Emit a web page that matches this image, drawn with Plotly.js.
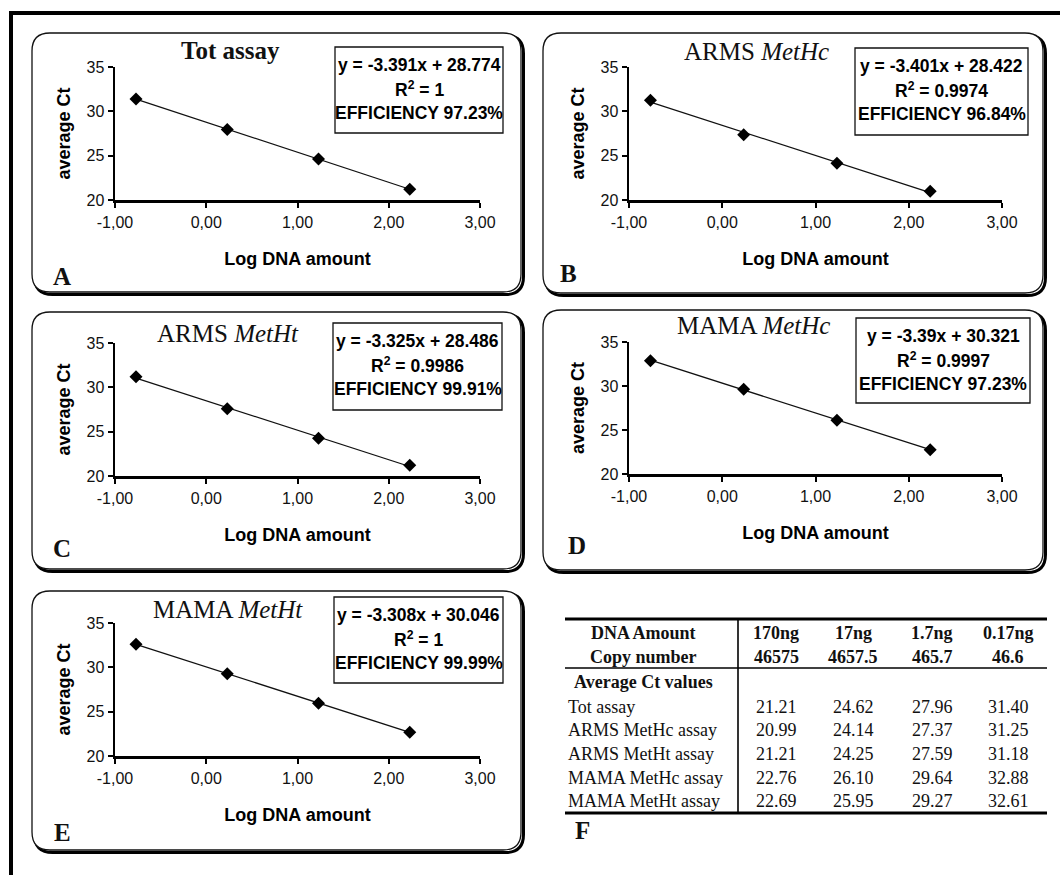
<!DOCTYPE html>
<html>
<head>
<meta charset="utf-8">
<script src="https://cdn.plot.ly/plotly-3.0.1.min.js"></script>
<style>html,body{margin:0;padding:0;background:#fff;}#chart{width:1060px;height:875px;}</style>
</head>
<body>
<div id="chart"></div>
<script>
// ---------------- DATA ----------------
const amountLabels = ["170ng", "17ng", "1.7ng", "0.17ng"];
const copyNumbers = ["46575", "4657.5", "465.7", "46.6"];
const logDnaAmount = [2.23, 1.23, 0.23, -0.77];

const assayNames = ["Tot assay", "ARMS MetHc assay", "ARMS MetHt assay", "MAMA MetHc assay", "MAMA MetHt assay"];
const ctTot       = [21.21, 24.62, 27.96, 31.40];
const ctArmsMetHc = [20.99, 24.14, 27.37, 31.25];
const ctArmsMetHt = [21.21, 24.25, 27.59, 31.18];
const ctMamaMetHc = [22.76, 26.10, 29.64, 32.88];
const ctMamaMetHt = [22.69, 25.95, 29.27, 32.61];

const panelTitles = ["<b>Tot assay</b>", "ARMS <i>MetHc</i>", "ARMS <i>MetHt</i>", "MAMA <i>MetHc</i>", "MAMA <i>MetHt</i>"];
const panelLetters = ["A", "B", "C", "D", "E"];
const fitSlopes = [-3.391, -3.401, -3.325, -3.39, -3.308];
const fitIntercepts = [28.774, 28.422, 28.486, 30.321, 30.046];
const fitR2 = ["1", "0.9974", "0.9986", "0.9997", "1"];
const fitEfficiency = ["97.23%", "96.84%", "99.91%", "97.23%", "99.99%"];

const xTickVals = [-1, 0, 1, 2, 3];
const xTickLabels = ["-1,00", "0,00", "1,00", "2,00", "3,00"];
const yTickVals = [20, 25, 30, 35];
const yTickLabels = ["20", "25", "30", "35"];

// ---------------- LAYOUT GEOMETRY (pixels) ----------------
const W = 1060, H = 875;
const fx = x => x / W;
const fy = y => 1 - y / H;

const ctSeries = [ctTot, ctArmsMetHc, ctArmsMetHt, ctMamaMetHc, ctMamaMetHt];
const geo = [
  {plot: [115, 67, 480, 200], box: [32, 33, 521, 292], title: [230, 50], eq: [335, 47, 503, 133], letter: [62, 277]},
  {plot: [629, 67, 1002, 200], box: [543, 33, 1043, 293], title: [756, 52], eq: [855, 48, 1028, 135], letter: [568, 273]},
  {plot: [115, 343, 480, 476], box: [32, 312, 521, 569], title: [228, 333], eq: [333, 323, 502, 410], letter: [62, 548]},
  {plot: [629, 342, 1002, 474], box: [543, 310, 1043, 570], title: [753, 325], eq: [856, 318, 1030, 403], letter: [577, 545]},
  {plot: [115, 623, 480, 756], box: [32, 591, 521, 850], title: [228, 609], eq: [334, 597, 503, 683], letter: [62, 832]}
];

function rrPath(x0, y0, x1, y1, r) {
  const P = (x, y) => fx(x).toFixed(5) + "," + fy(y).toFixed(5);
  return "M" + P(x0 + r, y0) + " L" + P(x1 - r, y0) + " Q" + P(x1, y0) + " " + P(x1, y0 + r) +
    " L" + P(x1, y1 - r) + " Q" + P(x1, y1) + " " + P(x1 - r, y1) +
    " L" + P(x0 + r, y1) + " Q" + P(x0, y1) + " " + P(x0, y1 - r) +
    " L" + P(x0, y0 + r) + " Q" + P(x0, y0) + " " + P(x0 + r, y0) + " Z";
}

const sans = "Arial, 'Liberation Sans', sans-serif";
const serif = "'Times New Roman', 'Liberation Serif', serif";

const traces = [];
const shapes = [];
const annotations = [];
const layout = {
  width: W, height: H,
  margin: {l: 0, r: 0, t: 0, b: 0},
  paper_bgcolor: "#ffffff",
  plot_bgcolor: "rgba(0,0,0,0)",
  showlegend: false,
  shapes: shapes,
  annotations: annotations
};

// outer frame (top & left visible)
shapes.push({type: "line", xref: "paper", yref: "paper", x0: fx(11), y0: fy(13), x1: fx(1062), y1: fy(13), line: {color: "#000", width: 4}});
shapes.push({type: "line", xref: "paper", yref: "paper", x0: fx(11), y0: fy(11), x1: fx(11), y1: fy(880), line: {color: "#000", width: 4}});

geo.forEach((g, i) => {
  const n = i + 1;
  const xa = "xaxis" + (n === 1 ? "" : n), ya = "yaxis" + (n === 1 ? "" : n);
  const xr = "x" + (n === 1 ? "" : n), yr = "y" + (n === 1 ? "" : n);
  const [b0, b1, b2, b3] = g.box;
  // panel shadow + panel
  shapes.push({type: "path", xref: "paper", yref: "paper", layer: "below", path: rrPath(b0 + 2.5, b1 + 2.5, b2 + 2.5, b3 + 2.5, 18), line: {color: "#000", width: 3}});
  shapes.push({type: "path", xref: "paper", yref: "paper", layer: "below", path: rrPath(b0, b1, b2, b3, 18), fillcolor: "#fff", line: {color: "#111", width: 1.3}});

  layout[xa] = {
    domain: [fx(g.plot[0]), fx(g.plot[2])], anchor: yr, range: [-1, 3],
    tickmode: "array", tickvals: xTickVals, ticktext: xTickLabels, showgrid: false, zeroline: false,
    showline: true, linecolor: "#000", linewidth: 2.5, ticks: "outside", ticklen: 5, tickwidth: 2, tickcolor: "#000",
    ticklabelstandoff: 1,
    tickfont: {family: sans, size: 16, color: "#111"},
    title: {text: "<b>Log DNA amount</b>", font: {family: sans, size: 18, color: "#000"}, standoff: 23},
    fixedrange: true
  };
  layout[ya] = {
    domain: [fy(g.plot[3]), fy(g.plot[1])], anchor: xr, range: [20, 35],
    tickmode: "array", tickvals: yTickVals, ticktext: yTickLabels, showgrid: false, zeroline: false,
    showline: true, linecolor: "#000", linewidth: 2.5, ticks: "outside", ticklen: 5, tickwidth: 2, tickcolor: "#000",
    tickfont: {family: sans, size: 16, color: "#111"},
    title: {text: "<b>average Ct</b>", font: {family: sans, size: 18, color: "#000"}, standoff: 11},
    fixedrange: true
  };

  // trend line from the fitted equation over the data span
  const xs = [Math.min(...logDnaAmount), Math.max(...logDnaAmount)];
  traces.push({
    type: "scatter", mode: "lines", xaxis: xr, yaxis: yr,
    x: xs, y: xs.map(v => fitSlopes[i] * v + fitIntercepts[i]),
    line: {color: "#111", width: 1.3}, hoverinfo: "skip"
  });
  traces.push({
    type: "scatter", mode: "markers", xaxis: xr, yaxis: yr,
    x: logDnaAmount, y: ctSeries[i],
    marker: {symbol: "diamond", size: 10, color: "#000"}
  });

  // title
  annotations.push({xref: "paper", yref: "paper", x: fx(g.title[0]), y: fy(g.title[1]), xanchor: "center", yanchor: "middle",
    text: panelTitles[i], showarrow: false, font: {family: serif, size: 25, color: "#111"}});
  // equation box
  const [e0, e1, e2, e3] = g.eq;
  shapes.push({type: "rect", xref: "paper", yref: "paper", x0: fx(e0), y0: fy(e1), x1: fx(e2), y1: fy(e3),
    fillcolor: "#fff", line: {color: "#111", width: 1.3}});
  const eqLines = ["y = " + fitSlopes[i] + "x + " + fitIntercepts[i], "R<sup>2</sup> = " + fitR2[i], "EFFICIENCY " + fitEfficiency[i]];
  const eqOff = [18, 42, 66];
  eqLines.forEach((t, k) => {
    annotations.push({xref: "paper", yref: "paper", x: fx((e0 + e2) / 2), y: fy(e1 + eqOff[k]),
      xanchor: "center", yanchor: "middle", text: "<b>" + t + "</b>", showarrow: false,
      font: {family: sans, size: 17.5, color: "#000"}});
  });
  // letter
  annotations.push({xref: "paper", yref: "paper", x: fx(g.letter[0]), y: fy(g.letter[1]), xanchor: "center", yanchor: "middle",
    text: "<b>" + panelLetters[i] + "</b>", showarrow: false, font: {family: serif, size: 25, color: "#111"}});
});

// ---------------- TABLE F ----------------
const tLeft = 565, tRight = 1047, tSep = 738;
const colX = [776, 853, 932, 1008];
const rowY = [707, 730, 754, 778, 801];
const tFont = {family: serif, size: 18, color: "#111"};
const tFontB = {family: serif, size: 18, color: "#111"};
shapes.push({type: "line", xref: "paper", yref: "paper", x0: fx(tLeft), y0: fy(619), x1: fx(tRight), y1: fy(619), line: {color: "#000", width: 3}});
shapes.push({type: "line", xref: "paper", yref: "paper", x0: fx(tLeft), y0: fy(668), x1: fx(tRight), y1: fy(668), line: {color: "#000", width: 1.6}});
shapes.push({type: "line", xref: "paper", yref: "paper", x0: fx(tLeft), y0: fy(813), x1: fx(tRight), y1: fy(813), line: {color: "#000", width: 3}});
shapes.push({type: "line", xref: "paper", yref: "paper", x0: fx(tSep), y0: fy(619), x1: fx(tSep), y1: fy(813), line: {color: "#000", width: 1.6}});

annotations.push({xref: "paper", yref: "paper", x: fx(643), y: fy(633), xanchor: "center", yanchor: "middle", showarrow: false, text: "<b>DNA Amount</b>", font: tFontB});
annotations.push({xref: "paper", yref: "paper", x: fx(643), y: fy(657), xanchor: "center", yanchor: "middle", showarrow: false, text: "<b>Copy number</b>", font: tFontB});
annotations.push({xref: "paper", yref: "paper", x: fx(643), y: fy(682), xanchor: "center", yanchor: "middle", showarrow: false, text: "<b>Average Ct values</b>", font: tFontB});
amountLabels.forEach((a, j) => {
  annotations.push({xref: "paper", yref: "paper", x: fx(colX[j]), y: fy(633), xanchor: "center", yanchor: "middle", showarrow: false, text: "<b>" + a + "</b>", font: tFontB});
  annotations.push({xref: "paper", yref: "paper", x: fx(colX[j]), y: fy(657), xanchor: "center", yanchor: "middle", showarrow: false, text: "<b>" + copyNumbers[j] + "</b>", font: tFontB});
});
assayNames.forEach((name, r) => {
  annotations.push({xref: "paper", yref: "paper", x: fx(566), y: fy(rowY[r]), xanchor: "left", yanchor: "middle", showarrow: false, text: name, font: tFont});
  ctSeries[r].forEach((v, j) => {
    annotations.push({xref: "paper", yref: "paper", x: fx(colX[j]), y: fy(rowY[r]), xanchor: "center", yanchor: "middle", showarrow: false, text: v.toFixed(2), font: tFont});
  });
});
annotations.push({xref: "paper", yref: "paper", x: fx(582), y: fy(830), xanchor: "center", yanchor: "middle", showarrow: false, text: "<b>F</b>", font: {family: serif, size: 25, color: "#111"}});

Plotly.newPlot("chart", traces, layout, {displayModeBar: false, staticPlot: true});
</script>
</body>
</html>
